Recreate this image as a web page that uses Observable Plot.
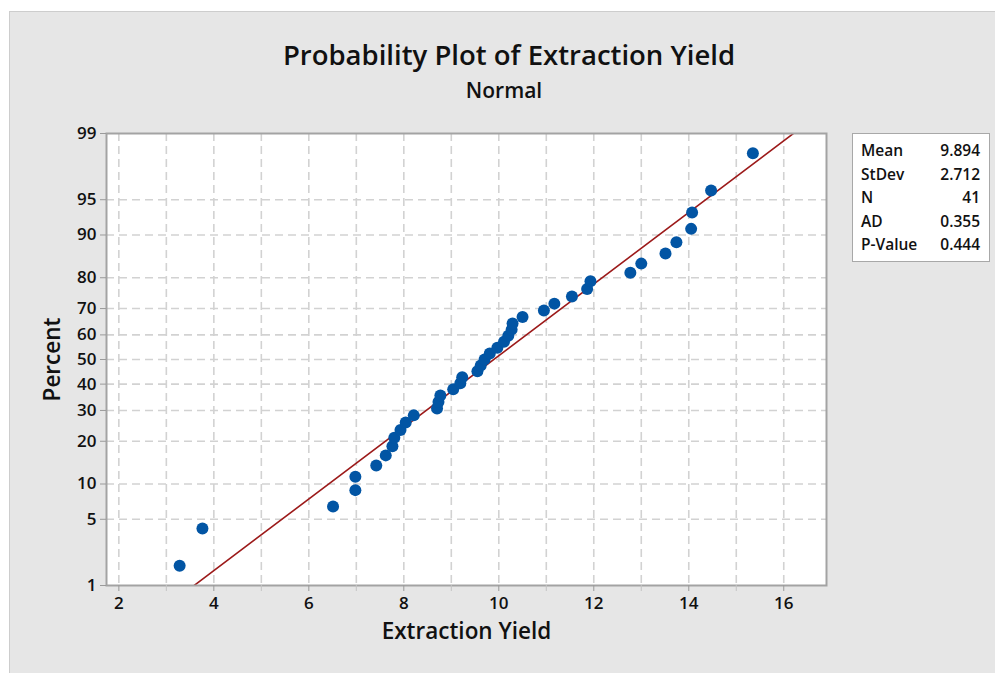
<!DOCTYPE html>
<html>
<head>
<meta charset="utf-8">
<script src="https://cdn.jsdelivr.net/npm/d3@7"></script>
<script src="https://cdn.jsdelivr.net/npm/@observablehq/plot@0.6"></script>
<style>
  body { margin: 0; background: #ffffff; font-family: "Open Sans", "Noto Sans", sans-serif; }
  #page { position: relative; width: 995px; height: 673px; overflow: hidden; }
  #panel { position: absolute; left: 9px; top: 11px; right: 0; bottom: 0; background: #e6e6e6; border-left: 1px solid #cdcdcd; border-top: 1px solid #cdcdcd; }
  #chart { position: absolute; left: 0; top: 0; }
  .ttl { position: absolute; left: 9px; right: 0; text-align: center; color: #111; white-space: nowrap; }
  #title { top: 36px; font-size: 27.5px; font-weight: 600; padding-left: 14px; }
  #subtitle { top: 76px; font-size: 21px; font-weight: 600; padding-left: 4px; }
  #legend { position: absolute; left: 852px; top: 133px; width: 136px; height: 127px; background: #fff; border: 1px solid #a8a8a8; }
  #legend table { border-collapse: collapse; margin: 5px 0 0 8px; width: 119px; font-size: 15.5px; font-weight: 600; color: #111; }
  #legend td { padding: 0; height: 23.5px; line-height: 23.5px; }
  #legend td.v { text-align: right; }
</style>
</head>
<body>
<div id="page">
  <div id="panel"></div>
  <div id="chart"></div>
  <div class="ttl" id="title">Probability Plot of Extraction Yield</div>
  <div class="ttl" id="subtitle">Normal</div>
  <div id="legend"></div>
</div>
<script>
// ---- data ----
const yields = [
  3.28, 3.76, 6.51, 6.98, 6.98, 7.42, 7.62, 7.76, 7.80, 7.93,
  8.04, 8.21, 8.70, 8.73, 8.77, 9.04, 9.19, 9.23, 9.55, 9.62,
  9.70, 9.81, 9.97, 10.11, 10.20, 10.27, 10.29, 10.50, 10.95, 11.17,
  11.54, 11.86, 11.93, 12.77, 13.00, 13.51, 13.74, 14.05, 14.07, 14.47,
  15.35
];
const percentTicks = [1, 5, 10, 20, 30, 40, 50, 60, 70, 80, 90, 95, 99];
const xTickLabels = [2, 4, 6, 8, 10, 12, 14, 16];
const xMinorTicks = [3, 5, 7, 9, 11, 13, 15];
const xGrid = [2, 3, 4, 5, 6, 7, 8, 9, 10, 11, 12, 13, 14, 15, 16];
const statLabels = ["Mean", "StDev", "N", "AD", "P-Value"];
const statValues = ["9.894", "2.712", "41", "0.355", "0.444"];
const fitMean = 9.894;
const fitStDev = 2.712;

// inverse standard normal CDF (Acklam)
function qnorm(p) {
  const a = [-3.969683028665376e+01, 2.209460984245205e+02, -2.759285104469687e+02, 1.383577518672690e+02, -3.066479806614716e+01, 2.506628277459239e+00];
  const b = [-5.447609879822406e+01, 1.615858368580409e+02, -1.556989798598866e+02, 6.680131188771972e+01, -1.328068155288572e+01];
  const c = [-7.784894002430293e-03, -3.223964580411365e-01, -2.400758277161838e+00, -2.549732539343734e+00, 4.374664141464968e+00, 2.938163982698783e+00];
  const d = [7.784695709041462e-03, 3.224671290700398e-01, 2.445134137142996e+00, 3.754408661907416e+00];
  const pl = 0.02425, ph = 1 - pl;
  let q, r;
  if (p < pl) {
    q = Math.sqrt(-2 * Math.log(p));
    return (((((c[0]*q+c[1])*q+c[2])*q+c[3])*q+c[4])*q+c[5]) / ((((d[0]*q+d[1])*q+d[2])*q+d[3])*q+1);
  }
  if (p <= ph) {
    q = p - 0.5; r = q * q;
    return (((((a[0]*r+a[1])*r+a[2])*r+a[3])*r+a[4])*r+a[5])*q / (((((b[0]*r+b[1])*r+b[2])*r+b[3])*r+b[4])*r+1);
  }
  q = Math.sqrt(-2 * Math.log(1 - p));
  return -(((((c[0]*q+c[1])*q+c[2])*q+c[3])*q+c[4])*q+c[5]) / ((((d[0]*q+d[1])*q+d[2])*q+d[3])*q+1);
}

// median-rank plotting positions (Minitab default)
const n = yields.length;
const points = yields.map((v, i) => ({ x: v, p: (i + 1 - 0.3) / (n + 0.4) }))
  .map(d => ({ x: d.x, z: qnorm(d.p) }));

const zTicks = percentTicks.map(p => qnorm(p / 100));
const zLabel = new Map(zTicks.map((z, i) => [z, String(percentTicks[i])]));
const zGrid = zTicks.slice(1, -1);

const fitLine = [-2.8, 2.8].map(z => ({ x: fitMean + fitStDev * z, z }));

const gridStyle = { stroke: "#d2d2d2", strokeOpacity: 1, strokeWidth: 1.6, strokeDasharray: "8,5" };

const chart = Plot.plot({
  width: 995,
  height: 673,
  marginLeft: 106,
  marginRight: 169,
  marginTop: 133,
  marginBottom: 88,
  style: { background: "transparent", fontFamily: "'Open Sans', 'Noto Sans', sans-serif", fontSize: "16px", color: "#111" },
  x: { domain: [1.74, 16.9] },
  y: { domain: [zTicks[0], zTicks[zTicks.length - 1]] },
  marks: [
    Plot.frame({ fill: "#ffffff", stroke: null }),
    Plot.gridX(xGrid, gridStyle),
    Plot.gridY(zGrid, gridStyle),
    Plot.line(fitLine, { x: "x", y: "z", stroke: "#9c1a1a", strokeWidth: 1.6, clip: true }),
    Plot.dot(points, { x: "x", y: "z", r: 6, fill: "#0255a4", stroke: null }),
    Plot.frame({ stroke: "#a3a3a3", strokeWidth: 2 }),
    Plot.axisX(xMinorTicks, { tickSize: 6, stroke: "#c4c4c4", tickFormat: () => "", label: null }),
    Plot.axisX(xTickLabels, { tickSize: 6, stroke: "#9a9a9a", tickPadding: 5, label: null, fill: "#111", fontSize: 17, fontWeight: 600 }),
    Plot.axisY(zTicks, { tickSize: 6, stroke: "#9a9a9a", tickPadding: 4, tickFormat: z => zLabel.get(z), label: null, fill: "#111", fontSize: 17, fontWeight: 600 }),
    Plot.text(["Extraction Yield"], { frameAnchor: "bottom", dy: 53, fontSize: 22.5, fontWeight: 600, fill: "#111" }),
    Plot.text(["Percent"], { frameAnchor: "left", dx: -54, rotate: -90, textAnchor: "middle", fontSize: 22.5, fontWeight: 600, fill: "#111" })
  ]
});
document.getElementById("chart").appendChild(chart);

// stats box
const tbl = document.createElement("table");
statLabels.forEach((lab, i) => {
  const tr = document.createElement("tr");
  const a = document.createElement("td"); a.textContent = lab;
  const b = document.createElement("td"); b.className = "v"; b.textContent = statValues[i];
  tr.appendChild(a); tr.appendChild(b); tbl.appendChild(tr);
});
document.getElementById("legend").appendChild(tbl);
</script>
</body>
</html>
